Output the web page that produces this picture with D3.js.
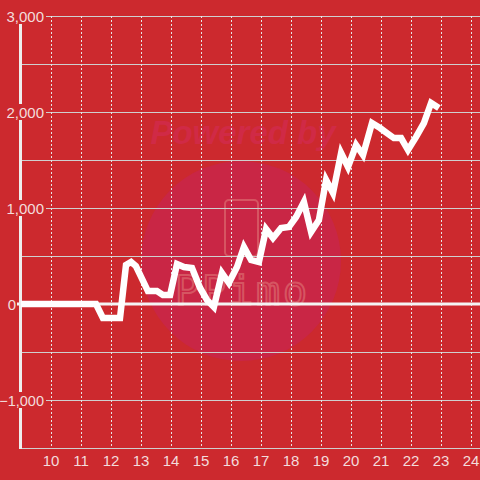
<!DOCTYPE html>
<html>
<head>
<meta charset="utf-8">
<script src="https://cdn.jsdelivr.net/npm/d3@7"></script>
<style>
    body { margin: 0; background: #cc292e; }
    text { font-family: "Liberation Sans", Arial, sans-serif; }
</style>
</head>
<body>
<div id="chart_container"></div>
<script>
// line points
const point_x = [9.00, 11.50, 11.73, 12.30, 12.50, 12.67, 12.83, 13.23, 13.53, 13.73, 13.97,
    14.20, 14.43, 14.70, 14.97, 15.20, 15.43, 15.70, 15.93, 16.20, 16.43, 16.67, 16.93,
    17.17, 17.40, 17.67, 17.93, 18.17, 18.43, 18.67, 18.93, 19.17, 19.40, 19.67, 19.90,
    20.17, 20.40, 20.70, 20.97, 21.20, 21.43, 21.67, 21.90, 22.17, 22.43, 22.67, 22.93];
const point_y = [0, 0, -146, -146, 406, 437, 396, 135, 135, 94, 94,
    417, 385, 375, 167, 42, -31, 323, 219, 385, 594, 458, 438,
    781, 688, 792, 802, 906, 1063, 750, 875, 1292, 1156, 1573, 1427,
    1656, 1552, 1885, 1833, 1781, 1729, 1729, 1604, 1740, 1885, 2094, 2042];

const x_ticks = [10, 11, 12, 13, 14, 15, 16, 17, 18, 19, 20, 21, 22, 23, 24];
const y_grid = [3000, 2500, 2000, 1500, 1000, 500, 0, -500, -1000];
const y_labels = [3000, 2000, 1000, -1000];

const chart_width = 480, chart_height = 480;
const plot_left = 21, plot_top = 16, plot_bottom = 448;

const svg = d3.select("#chart_container")
    .append("svg")
    .attr("width", chart_width)
    .attr("height", chart_height);

svg.append("rect")
    .attr("width", chart_width)
    .attr("height", chart_height)
    .attr("fill", "#cc292e");

const x = d3.scaleLinear()
    .domain([9, 24.3])
    .range([plot_left, chart_width]);

const y = d3.scaleLinear()
    .domain([-1500, 3000])
    .range([plot_bottom, plot_top]);

// watermark
const wm = svg.append("g");
wm.append("circle")
    .attr("cx", 241)
    .attr("cy", 261)
    .attr("r", 100)
    .attr("fill", "#c92645");
wm.append("text")
    .attr("x", 243)
    .attr("y", 144)
    .attr("text-anchor", "middle")
    .style("font-size", "33px")
    .style("font-weight", "bold")
    .style("font-style", "italic")
    .attr("fill", "#d02a46")
    .text("Powered by");
wm.append("rect")
    .attr("x", 225)
    .attr("y", 200)
    .attr("width", 33)
    .attr("height", 56)
    .attr("rx", 4)
    .attr("fill", "none")
    .attr("stroke", "#d65562")
    .attr("stroke-width", 2);
wm.append("text")
    .attr("x", 241)
    .attr("y", 305)
    .attr("text-anchor", "middle")
    .style("font-size", "40px")
    .style("font-family", "'DejaVu Sans Mono', monospace")
    .attr("textLength", 132)
    .attr("fill", "none")
    .attr("stroke", "#d65562")
    .attr("stroke-width", 2)
    .text("PPimo");

// horizontal grid
svg.selectAll(".hgrid")
    .data(y_grid.filter(d => d !== 0))
    .enter()
    .append("line")
    .attr("x1", plot_left)
    .attr("x2", chart_width)
    .attr("y1", d => y(d) + 0.5)
    .attr("y2", d => y(d) + 0.5)
    .attr("stroke", "#cfcfcf")
    .attr("stroke-width", 1);

// vertical dotted grid
svg.selectAll(".vgrid")
    .data(x_ticks)
    .enter()
    .append("line")
    .attr("x1", d => Math.round(x(d)) + 0.5)
    .attr("x2", d => Math.round(x(d)) + 0.5)
    .attr("y1", plot_top)
    .attr("y2", plot_bottom)
    .attr("stroke", "#e6e6e6")
    .attr("stroke-width", 1)
    .attr("stroke-dasharray", "2,2");

// bottom axis
svg.append("line")
    .attr("x1", plot_left - 2)
    .attr("x2", chart_width)
    .attr("y1", plot_bottom + 0.5)
    .attr("y2", plot_bottom + 0.5)
    .attr("stroke", "#cfcfcf");

// zero line
svg.append("line")
    .attr("x1", 17)
    .attr("x2", chart_width)
    .attr("y1", y(0))
    .attr("y2", y(0))
    .attr("stroke", "#f4f4f4")
    .attr("stroke-width", 3);

// y axis line
svg.append("line")
    .attr("x1", plot_left - 0.5)
    .attr("x2", plot_left - 0.5)
    .attr("y1", 24)
    .attr("y2", plot_bottom + 1)
    .attr("stroke", "#eeeeee")
    .attr("stroke-width", 3);

// data line
const line = d3.line()
    .x((d, i) => x(point_x[i]))
    .y(d => y(d));

svg.append("path")
    .datum(point_y)
    .attr("d", line)
    .attr("fill", "none")
    .attr("stroke", "#ffffff")
    .attr("stroke-width", 6.5)
    .attr("stroke-linejoin", "miter");

// y labels with red background
const fmt = d3.format(",");
const ylab = svg.selectAll(".ylab")
    .data(y_labels)
    .enter()
    .append("g");
ylab.append("rect")
    .attr("x", d => d < 0 ? 1 : 4)
    .attr("y", d => y(d) - 8)
    .attr("width", d => d < 0 ? 45 : 42)
    .attr("height", 16)
    .attr("fill", "#cc292e");
ylab.append("text")
    .attr("x", 44)
    .attr("y", d => y(d) + 5.5)
    .attr("text-anchor", "end")
    .style("font-size", d => d < 0 ? "14.5px" : "15px")
    .attr("fill", "#f3dcdc")
    .text(d => fmt(d));

// zero label sits left of the axis
svg.append("text")
    .attr("x", 12)
    .attr("y", y(0) + 5.5)
    .attr("text-anchor", "middle")
    .style("font-size", "15px")
    .attr("fill", "#f3dcdc")
    .text(fmt(0));

// x labels
svg.selectAll(".xlab")
    .data(x_ticks)
    .enter()
    .append("text")
    .attr("x", d => x(d))
    .attr("y", 466)
    .attr("text-anchor", "middle")
    .style("font-size", "15px")
    .attr("fill", "#f3dcdc")
    .text(d => d);
</script>
</body>
</html>
